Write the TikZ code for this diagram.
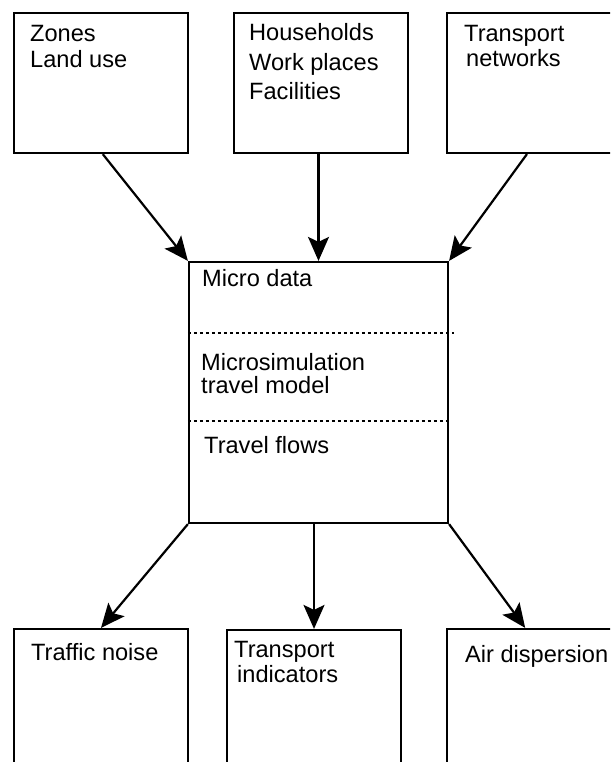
\documentclass[tikz,border=0pt]{standalone}
\usepackage{fontspec}
\setmainfont{Liberation Sans}
\usetikzlibrary{arrows.meta,calc}

\tikzset{
  box/.style={draw, line width=2.2pt, rectangle, inner sep=0pt, fill=white},
  flow/.style={line width=2.2pt, -{Stealth[length=24pt,width=21pt,inset=5pt]}},
  sep/.style={line width=1.3pt, dash pattern=on 3pt off 3pt},
  txt/.style={anchor=base west, inner sep=0pt, font=\fontsize{23.6}{26}\selectfont},
}
% multi-line label whose baseline is that of its first line
\newcommand{\txtlines}[2][26pt]{\parbox[t]{200pt}{\baselineskip=#1\relax #2}}

\begin{document}
\begin{tikzpicture}[x=1pt, y=-1pt]
  \useasboundingbox (0,0) rectangle (610,762);
  \clip (0,0) rectangle (610,762);
  \fill[white] (0,0) rectangle (610,762);

  % input boxes
  \node[box, minimum width=174pt, minimum height=140pt] (zones) at (101,83) {};
  \node[box, minimum width=174pt, minimum height=140pt] (house) at (321,83) {};
  \node[box, minimum width=174pt, minimum height=140pt] (net)   at (534,83) {};

  % central model box
  \node[box, minimum width=259pt, minimum height=261pt] (micro) at (318.5,392.5) {};

  % output boxes
  \node[box, minimum width=174pt, minimum height=150pt] (noise) at (101,704) {};
  \node[box, minimum width=174pt, minimum height=150pt] (ind)   at (314,705) {};
  \node[box, minimum width=174pt, minimum height=150pt] (air)   at (534,704) {};

  % section separators inside the model box
  \draw[sep] ([yshift=-72pt]micro.north west) -- ([xshift=5pt,yshift=-72pt]micro.north east);
  \draw[sep] ([yshift=-160pt]micro.north west) -- ([yshift=-160pt]micro.north east);

  % labels
  \node[txt] (tzones) at (30,42) {\txtlines{Zones\\Land use}};
  \node[txt] (thouse) at (249,41) {\txtlines[29.5pt]{Households\\Work places\\Facilities}};
  \node[txt] (tnet)   at (464,42) {\txtlines[25pt]{Transport\\\hspace*{2pt}networks}};
  \node[txt] (tmd)    at (202,286) {Micro data};
  \node[txt] (tmodel) at (201,370) {\txtlines[23pt]{Microsimulation\\travel model}};
  \node[txt] (tflows) at (204,453) {Travel flows};
  \node[txt] (tnoise) at (31,660) {Traffic noise};
  \node[txt] (tind)   at (234,657) {\txtlines[25pt]{Transport\\\hspace*{3pt}indicators}};
  \node[txt] (tair)   at (465,662) {Air dispersion};

  % data flows into the model
  \draw[flow] ($(zones.south west)!0.51!(zones.south east)$) -- (micro.north west);
  \draw[flow] (house.south -| micro.north) -- (micro.north);
  \draw[flow] ($(net.south west)!0.46!(net.south east)$) -- (micro.north east);

  % results out of the model
  \draw[flow] (micro.south west) -- (noise.north);
  \draw[flow] (micro.south -| ind.north) -- (ind.north);
  \draw[flow] (micro.south east) -- ($(air.north west)!0.45!(air.north east)$);
\end{tikzpicture}
\end{document}
